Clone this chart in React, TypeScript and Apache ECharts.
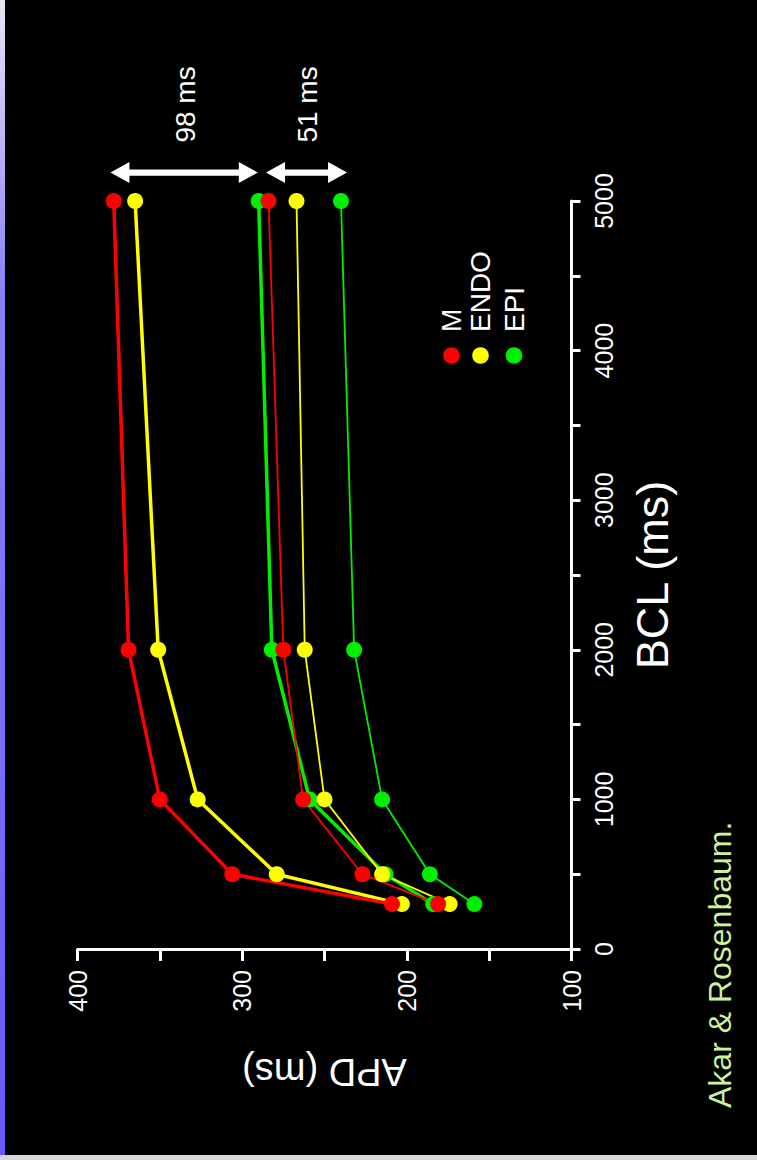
import React, { useEffect, useRef } from "react";
import * as echarts from "echarts";

// Basic cycle length (ms) at which APD was measured
const BCL = [300, 500, 1000, 2000, 5000];
// APD (ms) — thick curves
const M_A = [209, 306, 350, 369, 378];
const ENDO_A = [203, 279, 327, 351, 365];
const EPI_A = [184, 213, 259, 282, 290];
// APD (ms) — thin curves
const M_B = [181, 227, 263, 275, 284];
const ENDO_B = [174, 215, 250, 262, 267];
const EPI_B = [159, 186, 215, 232, 240];

const LEGEND = ["M", "ENDO", "EPI"];
const COLORS = ["#ff0000", "#ffff00", "#00ee00"];

// dispersion arrows: APD span at the BCL level just above the plot
const ARROW_BCL = 5190;
const ARROWS = [
  { from: 380, to: 290.5, label: "98 ms" },
  { from: 285.5, to: 236.3, label: "51 ms" },
];
const CREDIT = "Akar & Rosenbaum.";

const FONT = "'Liberation Sans', Arial, Helvetica, sans-serif";

function pairs(apd: number[]) {
  return apd.map((v, i) => [v, BCL[i]]);
}

export default function App() {
  const ref = useRef<HTMLDivElement>(null);
  useEffect(() => {
    if (!ref.current) return;
    const chart = echarts.init(ref.current, undefined, { renderer: "svg" });
    const mk = (name: string, data: number[], color: string, width: number) => ({
      name,
      type: "line",
      data: pairs(data),
      symbol: "circle",
      symbolSize: 16,
      showSymbol: true,
      clip: false,
      itemStyle: { color },
      lineStyle: { color, width },
      emphasis: { disabled: true },
    });
    const option: any = {
      animation: false,
      backgroundColor: "#000000",
      textStyle: { fontFamily: FONT },
      grid: { left: 77.5, right: 185.5, top: 201, bottom: 211, containLabel: false },
      xAxis: {
        type: "value",
        min: 100,
        max: 400,
        interval: 100,
        inverse: true,
        position: "bottom",
        name: "APD (ms)",
        nameLocation: "middle",
        nameRotate: 180,
        nameGap: 104,
        nameTextStyle: { color: "#ffffff", fontSize: 38, fontFamily: FONT },
        axisLine: { show: true, lineStyle: { color: "#ffffff", width: 3 } },
        axisTick: { show: true, length: 12, lineStyle: { color: "#ffffff", width: 3 } },
        minorTick: { show: true, splitNumber: 2, length: 12, lineStyle: { color: "#ffffff", width: 3 } },
        axisLabel: {
          rotate: 90,
          margin: 21,
          color: "#ffffff",
          fontSize: 25,
          fontFamily: FONT,
          showMinLabel: true,
          showMaxLabel: true,
          formatter: (v: number) => String(v),
        },
        splitLine: { show: false },
      },
      yAxis: {
        type: "value",
        min: 0,
        max: 5000,
        interval: 1000,
        position: "right",
        name: "BCL (ms)",
        nameLocation: "middle",
        nameRotate: 90,
        nameGap: 58,
        nameTextStyle: { color: "#ffffff", fontSize: 45, fontFamily: FONT },
        axisLine: { show: true, lineStyle: { color: "#ffffff", width: 3 } },
        axisTick: { show: true, length: 9, lineStyle: { color: "#ffffff", width: 3 } },
        minorTick: { show: true, splitNumber: 2, length: 9, lineStyle: { color: "#ffffff", width: 3 } },
        axisLabel: {
          rotate: 90,
          margin: 20,
          color: "#ffffff",
          fontSize: 25,
          fontFamily: FONT,
          showMinLabel: true,
          showMaxLabel: true,
          formatter: (v: number) => String(v),
        },
        splitLine: { show: false },
      },
      series: [
        mk("EPI (thin)", EPI_B, COLORS[2], 1.8),
        mk("EPI", EPI_A, COLORS[2], 3.5),
        mk("ENDO (thin)", ENDO_B, COLORS[1], 1.8),
        mk("ENDO", ENDO_A, COLORS[1], 3.5),
        mk("M (thin)", M_B, COLORS[0], 1.8),
        mk("M", M_A, COLORS[0], 3.5),
      ],
    };
    chart.setOption(option);

    const graphics: any[] = [];
    // left decorative stripe
    graphics.push({
      type: "rect",
      shape: { x: 0, y: 0, width: 5, height: 1160 },
      style: {
        fill: new echarts.graphic.LinearGradient(0, 0, 0, 1, [
          { offset: 0, color: "#e6e6f6" },
          { offset: 0.25, color: "#8c80fb" },
          { offset: 1, color: "#6a58ff" },
        ]),
      },
      z: 100,
    });
    graphics.push({
      type: "rect",
      shape: { x: 0, y: 1155, width: 757, height: 5 },
      style: { fill: "#d8d8d8" },
      z: 100,
    });
    // arrows
    const st = 3.2, hl = 19, hh = 10.5;
    ARROWS.forEach((a) => {
      const p1 = chart.convertToPixel({ xAxisIndex: 0, yAxisIndex: 0 } as any, [a.from, ARROW_BCL]) as number[];
      const p2 = chart.convertToPixel({ xAxisIndex: 0, yAxisIndex: 0 } as any, [a.to, ARROW_BCL]) as number[];
      const x1 = Math.min(p1[0], p2[0]);
      const x2 = Math.max(p1[0], p2[0]);
      const y = p1[1];
      graphics.push({
        type: "polygon",
        shape: {
          points: [
            [x1, y],
            [x1 + hl, y - hh],
            [x1 + hl, y - st],
            [x2 - hl, y - st],
            [x2 - hl, y - hh],
            [x2, y],
            [x2 - hl, y + hh],
            [x2 - hl, y + st],
            [x1 + hl, y + st],
            [x1 + hl, y + hh],
          ],
        },
        style: { fill: "#ffffff" },
        z: 50,
      });
      graphics.push({
        type: "text",
        x: (x1 + x2) / 2 + 1,
        y: y - 30,
        rotation: Math.PI / 2,
        style: {
          text: a.label,
          fill: "#ffffff",
          fontSize: 28,
          fontFamily: FONT,
          align: "left",
          verticalAlign: "middle",
        },
        z: 50,
      });
    });
    // legend
    const legendX = [451.5, 480.5, 514];
    LEGEND.forEach((name, i) => {
      graphics.push({
        type: "circle",
        shape: { cx: legendX[i], cy: 355.5, r: 8.3 },
        style: { fill: COLORS[i] },
        z: 50,
      });
      graphics.push({
        type: "text",
        x: legendX[i],
        y: 332,
        rotation: Math.PI / 2,
        style: {
          text: name,
          fill: "#ffffff",
          fontSize: 28,
          fontFamily: FONT,
          align: "left",
          verticalAlign: "middle",
        },
        z: 50,
      });
    });
    // credit
    graphics.push({
      type: "text",
      x: 720,
      y: 1108,
      rotation: Math.PI / 2,
      style: {
        text: CREDIT,
        fill: "#cdf29c",
        fontSize: 32,
        fontFamily: FONT,
        align: "left",
        verticalAlign: "middle",
      },
      z: 50,
    });
    chart.setOption({ graphic: graphics });

    return () => chart.dispose();
  }, []);
  return (
    <div
      ref={ref}
      style={{ position: "absolute", left: 0, top: 0, width: 757, height: 1160 }}
    />
  );
}
